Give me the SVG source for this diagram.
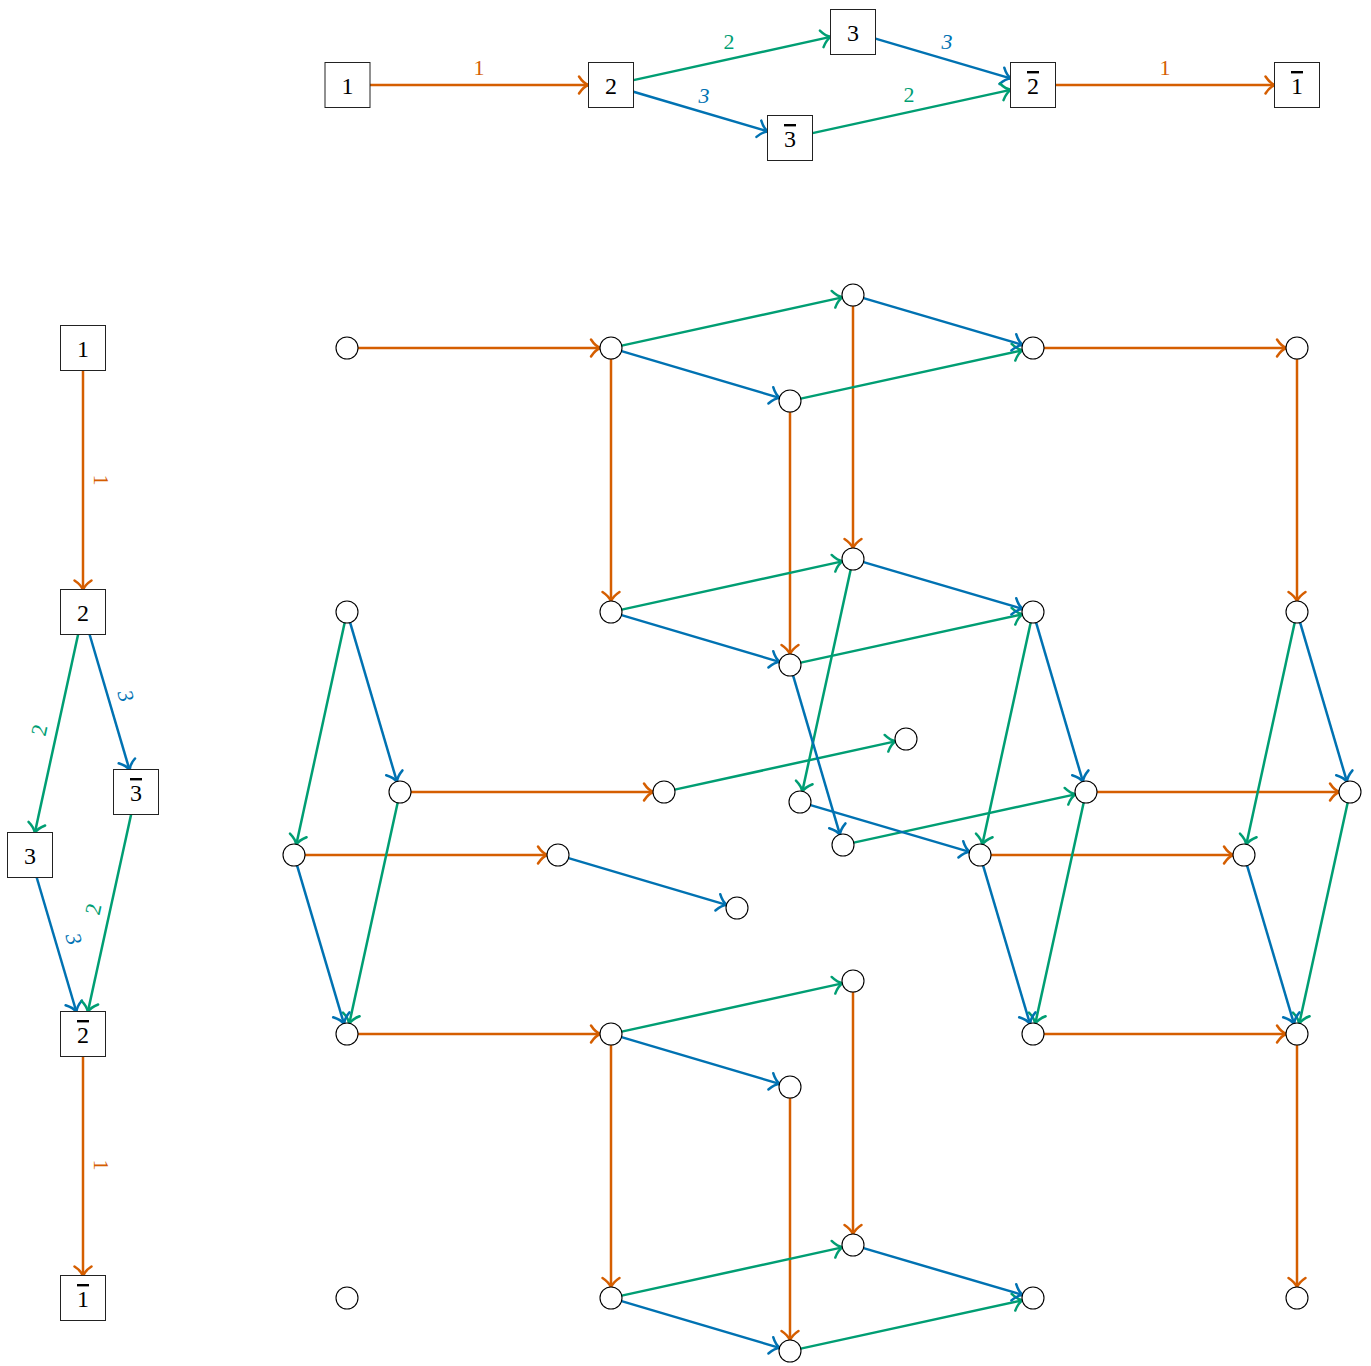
<svg xmlns="http://www.w3.org/2000/svg" width="1371" height="1366" viewBox="0 0 1371 1366">
<style>
.o{stroke:#D55E00}
.g{stroke:#009E73}
.b{stroke:#0072B2}
#edges line{stroke-width:2.5;fill:none}
#edges line.o{marker-end:url(#ao)}
#edges line.g{marker-end:url(#ag)}
#edges line.b{marker-end:url(#ab)}
.box rect{fill:#fff;stroke:#222;stroke-width:1}
.box text{font-family:"Liberation Serif","DejaVu Serif",serif;font-size:24px;text-anchor:middle;fill:#000}
.bar{text-decoration:overline;text-decoration-thickness:1px}
.cn circle{fill:#fff;stroke:#000;stroke-width:1.1}
.lbl{font-family:"Liberation Serif","DejaVu Serif",serif;font-size:22px;text-anchor:middle;dominant-baseline:central}
.lo{fill:#D55E00}.lg{fill:#009E73}.lb{fill:#0072B2;font-style:italic}
</style>
<defs>
<marker id="ao" viewBox="-12 -12 24 24" refX="0" refY="0" markerWidth="24" markerHeight="24" markerUnits="userSpaceOnUse" orient="auto"><path d="M-9,-8.5 Q-4.5,-1.6 0.7,0 Q-4.5,1.6 -9,8.5" fill="none" stroke="#D55E00" stroke-width="2.5" stroke-linecap="round" stroke-linejoin="round"/></marker>
<marker id="ag" viewBox="-12 -12 24 24" refX="0" refY="0" markerWidth="24" markerHeight="24" markerUnits="userSpaceOnUse" orient="auto"><path d="M-9,-8.5 Q-4.5,-1.6 0.7,0 Q-4.5,1.6 -9,8.5" fill="none" stroke="#009E73" stroke-width="2.5" stroke-linecap="round" stroke-linejoin="round"/></marker>
<marker id="ab" viewBox="-12 -12 24 24" refX="0" refY="0" markerWidth="24" markerHeight="24" markerUnits="userSpaceOnUse" orient="auto"><path d="M-9,-8.5 Q-4.5,-1.6 0.7,0 Q-4.5,1.6 -9,8.5" fill="none" stroke="#0072B2" stroke-width="2.5" stroke-linecap="round" stroke-linejoin="round"/></marker>
</defs>
<rect x="0" y="0" width="1371" height="1366" fill="#fff"/>
<g id="edges">
<!-- top crystal -->
<line class="o" x1="370" y1="85" x2="588" y2="85"/>
<line class="g" x1="633.5" y1="80.1" x2="830.5" y2="36.9"/>
<line class="b" x1="633.5" y1="91.7" x2="767.5" y2="131.3"/>
<line class="b" x1="875.5" y1="38.6" x2="1010.5" y2="78.4"/>
<line class="g" x1="812.5" y1="133.1" x2="1010.5" y2="89.9"/>
<line class="o" x1="1055.5" y1="85" x2="1274.5" y2="85"/>
<!-- left crystal -->
<line class="o" x1="83" y1="370.5" x2="83" y2="589.5"/>
<line class="g" x1="78.1" y1="634.5" x2="34.9" y2="832.5"/>
<line class="b" x1="89.6" y1="634.5" x2="129.4" y2="769.5"/>
<line class="b" x1="36.7" y1="877.5" x2="76.3" y2="1011.5"/>
<line class="g" x1="131.1" y1="814.5" x2="87.9" y2="1011.5"/>
<line class="o" x1="83" y1="1056.5" x2="83" y2="1275.5"/>
<!-- product grid: orange -->
<line class="o" x1="358" y1="348" x2="600" y2="348"/>
<line class="o" x1="1044" y1="348" x2="1286" y2="348"/>
<line class="o" x1="611" y1="359" x2="611" y2="601"/>
<line class="o" x1="853" y1="306" x2="853" y2="548"/>
<line class="o" x1="790" y1="412" x2="790" y2="654"/>
<line class="o" x1="1297" y1="359" x2="1297" y2="601"/>
<line class="o" x1="411" y1="792" x2="653" y2="792"/>
<line class="o" x1="1097" y1="792" x2="1339" y2="792"/>
<line class="o" x1="305" y1="855" x2="547" y2="855"/>
<line class="o" x1="991" y1="855" x2="1233" y2="855"/>
<line class="o" x1="358" y1="1034" x2="600" y2="1034"/>
<line class="o" x1="1044" y1="1034" x2="1286" y2="1034"/>
<line class="o" x1="611" y1="1045" x2="611" y2="1287"/>
<line class="o" x1="853" y1="992" x2="853" y2="1234"/>
<line class="o" x1="790" y1="1098" x2="790" y2="1340"/>
<line class="o" x1="1297" y1="1045" x2="1297" y2="1287"/>
<!-- green -->
<line class="g" x1="621.75" y1="345.65" x2="842.25" y2="297.35"/>
<line class="g" x1="800.75" y1="398.65" x2="1022.25" y2="350.35"/>
<line class="g" x1="621.75" y1="609.65" x2="842.25" y2="561.35"/>
<line class="g" x1="800.75" y1="662.65" x2="1022.25" y2="614.35"/>
<line class="g" x1="674.75" y1="789.65" x2="895.25" y2="741.35"/>
<line class="g" x1="853.75" y1="842.65" x2="1075.25" y2="794.35"/>
<line class="g" x1="621.75" y1="1031.65" x2="842.25" y2="983.35"/>
<line class="g" x1="621.75" y1="1295.65" x2="842.25" y2="1247.35"/>
<line class="g" x1="800.75" y1="1348.65" x2="1022.25" y2="1300.35"/>
<line class="g" x1="344.65" y1="622.75" x2="296.35" y2="844.25"/>
<line class="g" x1="850.65" y1="569.75" x2="802.35" y2="791.25"/>
<line class="g" x1="1030.65" y1="622.75" x2="982.35" y2="844.25"/>
<line class="g" x1="1294.65" y1="622.75" x2="1246.35" y2="844.25"/>
<line class="g" x1="397.65" y1="802.75" x2="349.35" y2="1023.25"/>
<line class="g" x1="1083.65" y1="802.75" x2="1035.35" y2="1023.25"/>
<line class="g" x1="1347.65" y1="802.75" x2="1299.35" y2="1023.25"/>
<!-- blue -->
<line class="b" x1="621.55" y1="351.12" x2="779.45" y2="397.88"/>
<line class="b" x1="863.55" y1="298.12" x2="1022.45" y2="344.88"/>
<line class="b" x1="621.55" y1="615.12" x2="779.45" y2="661.88"/>
<line class="b" x1="863.55" y1="562.12" x2="1022.45" y2="608.88"/>
<line class="b" x1="568.55" y1="858.12" x2="726.45" y2="904.88"/>
<line class="b" x1="810.55" y1="805.12" x2="969.45" y2="851.88"/>
<line class="b" x1="621.55" y1="1037.12" x2="779.45" y2="1083.88"/>
<line class="b" x1="621.55" y1="1301.12" x2="779.45" y2="1347.88"/>
<line class="b" x1="863.55" y1="1248.12" x2="1022.45" y2="1294.88"/>
<line class="b" x1="350.12" y1="622.55" x2="396.88" y2="781.45"/>
<line class="b" x1="793.12" y1="675.55" x2="839.88" y2="834.45"/>
<line class="b" x1="1036.12" y1="622.55" x2="1082.88" y2="781.45"/>
<line class="b" x1="1300.12" y1="622.55" x2="1346.88" y2="781.45"/>
<line class="b" x1="297.12" y1="865.55" x2="343.88" y2="1023.45"/>
<line class="b" x1="983.12" y1="865.55" x2="1029.88" y2="1023.45"/>
<line class="b" x1="1247.12" y1="865.55" x2="1293.88" y2="1023.45"/>
</g>
<g id="edge-labels">
<text class="lbl lo" x="479" y="67">1</text>
<text class="lbl lg" x="729" y="41">2</text>
<text class="lbl lb" x="704" y="95">3</text>
<text class="lbl lb" x="947" y="41">3</text>
<text class="lbl lg" x="909" y="94">2</text>
<text class="lbl lo" x="1165" y="67">1</text>
<text class="lbl lo" transform="translate(101,480) rotate(90)">1</text>
<text class="lbl lg" transform="translate(39,730) rotate(-77.65)">2</text>
<text class="lbl lb" transform="translate(126,696) rotate(73.6)">3</text>
<text class="lbl lb" transform="translate(74,939) rotate(73.5)">3</text>
<text class="lbl lg" transform="translate(93,909) rotate(-77.65)">2</text>
<text class="lbl lo" transform="translate(101,1165) rotate(90)">1</text>
</g>
<!-- top crystal boxes -->
<g id="t1" class="box"><rect x="325" y="62.5" width="45" height="45"/><text x="347.5" y="93.5">1</text></g>
<g id="t2" class="box"><rect x="588.5" y="62.5" width="45" height="45"/><text x="611" y="93.5">2</text></g>
<g id="t3" class="box"><rect x="830.5" y="9.5" width="45" height="45"/><text x="853" y="40.5">3</text></g>
<g id="t3b" class="box"><rect x="767.5" y="115.5" width="45" height="45"/><text x="790" y="147"><tspan class="bar">3</tspan></text></g>
<g id="t2b" class="box"><rect x="1010.5" y="62.5" width="45" height="45"/><text x="1033" y="94"><tspan class="bar">2</tspan></text></g>
<g id="t1b" class="box"><rect x="1274.5" y="62.5" width="45" height="45"/><text x="1297" y="94"><tspan class="bar">1</tspan></text></g>
<!-- left crystal boxes -->
<g id="l1" class="box"><rect x="60.5" y="325.5" width="45" height="45"/><text x="83" y="356.5">1</text></g>
<g id="l2" class="box"><rect x="60.5" y="589.5" width="45" height="45"/><text x="83" y="620.5">2</text></g>
<g id="l3b" class="box"><rect x="113.5" y="769.5" width="45" height="45"/><text x="136" y="801"><tspan class="bar">3</tspan></text></g>
<g id="l3" class="box"><rect x="7.5" y="832.5" width="45" height="45"/><text x="30" y="863.5">3</text></g>
<g id="l2b" class="box"><rect x="60.5" y="1011.5" width="45" height="45"/><text x="83" y="1043"><tspan class="bar">2</tspan></text></g>
<g id="l1b" class="box"><rect x="60.5" y="1275.5" width="45" height="45"/><text x="83" y="1307"><tspan class="bar">1</tspan></text></g>
<!-- product nodes -->
<g id="a1" class="cn"><circle cx="347" cy="348" r="11"/></g>
<g id="a2" class="cn"><circle cx="611" cy="348" r="11"/></g>
<g id="a3" class="cn"><circle cx="853" cy="295" r="11"/></g>
<g id="a3b" class="cn"><circle cx="790" cy="401" r="11"/></g>
<g id="a2b" class="cn"><circle cx="1033" cy="348" r="11"/></g>
<g id="a1b" class="cn"><circle cx="1297" cy="348" r="11"/></g>
<g id="b1" class="cn"><circle cx="347" cy="612" r="11"/></g>
<g id="b2" class="cn"><circle cx="611" cy="612" r="11"/></g>
<g id="b3" class="cn"><circle cx="853" cy="559" r="11"/></g>
<g id="b3b" class="cn"><circle cx="790" cy="665" r="11"/></g>
<g id="b2b" class="cn"><circle cx="1033" cy="612" r="11"/></g>
<g id="b1b" class="cn"><circle cx="1297" cy="612" r="11"/></g>
<g id="c1" class="cn"><circle cx="400" cy="792" r="11"/></g>
<g id="c2" class="cn"><circle cx="664" cy="792" r="11"/></g>
<g id="c3" class="cn"><circle cx="906" cy="739" r="11"/></g>
<g id="c3b" class="cn"><circle cx="843" cy="845" r="11"/></g>
<g id="c2b" class="cn"><circle cx="1086" cy="792" r="11"/></g>
<g id="c1b" class="cn"><circle cx="1350" cy="792" r="11"/></g>
<g id="d1" class="cn"><circle cx="294" cy="855" r="11"/></g>
<g id="d2" class="cn"><circle cx="558" cy="855" r="11"/></g>
<g id="d3" class="cn"><circle cx="800" cy="802" r="11"/></g>
<g id="d3b" class="cn"><circle cx="737" cy="908" r="11"/></g>
<g id="d2b" class="cn"><circle cx="980" cy="855" r="11"/></g>
<g id="d1b" class="cn"><circle cx="1244" cy="855" r="11"/></g>
<g id="e1" class="cn"><circle cx="347" cy="1034" r="11"/></g>
<g id="e2" class="cn"><circle cx="611" cy="1034" r="11"/></g>
<g id="e3" class="cn"><circle cx="853" cy="981" r="11"/></g>
<g id="e3b" class="cn"><circle cx="790" cy="1087" r="11"/></g>
<g id="e2b" class="cn"><circle cx="1033" cy="1034" r="11"/></g>
<g id="e1b" class="cn"><circle cx="1297" cy="1034" r="11"/></g>
<g id="f1" class="cn"><circle cx="347" cy="1298" r="11"/></g>
<g id="f2" class="cn"><circle cx="611" cy="1298" r="11"/></g>
<g id="f3" class="cn"><circle cx="853" cy="1245" r="11"/></g>
<g id="f3b" class="cn"><circle cx="790" cy="1351" r="11"/></g>
<g id="f2b" class="cn"><circle cx="1033" cy="1298" r="11"/></g>
<g id="f1b" class="cn"><circle cx="1297" cy="1298" r="11"/></g>
</svg>
